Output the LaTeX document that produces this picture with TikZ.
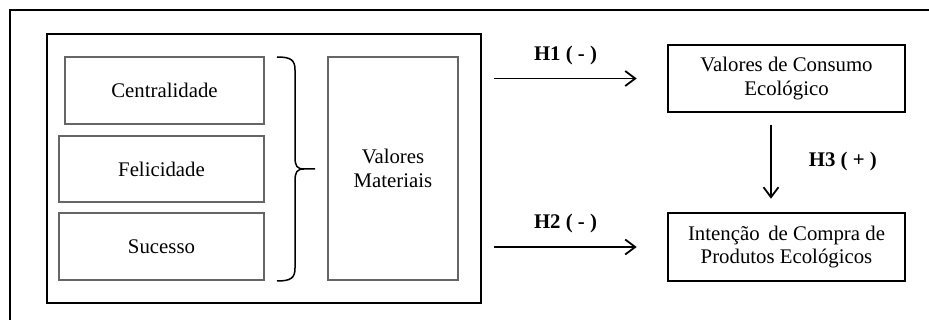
\documentclass[tikz,border=0pt]{standalone}
\usepackage{fontspec}
\setmainfont{Liberation Serif}
\usetikzlibrary{arrows.meta}
\begin{document}
\begin{tikzpicture}[x=1pt,y=-1pt,
  every node/.style={font=\fontsize{20.8}{23.5}\selectfont, align=center, inner sep=0pt},
  thinbox/.style={draw=black!60, line width=1.1pt},
  thickbox/.style={draw=black, line width=2.6pt},
  arr/.style={line width=1.8pt, -{Straight Barb[length=10pt,width=15pt,line width=1.8pt]}},
  lbl/.style={font=\fontsize{20.8}{23.5}\selectfont\bfseries}]
\useasboundingbox (0,0) rectangle (929,320);
% outer frame
\coordinate (fa) at (10,320);
\coordinate (fb) at (10,10);
\coordinate (fc) at (929,10);
\draw[line width=2.2pt] (fa) -- (fb) -- (fc);
% big box
\node[thickbox, minimum width=434pt, minimum height=269pt] (big) at (264,168.5) {};
\node[thinbox, minimum width=199pt, minimum height=67pt] (cen) at (164.5,90.5) {Centralidade};
\node[thinbox, minimum width=205pt, minimum height=66pt] (fel) at (161.5,169) {Felicidade};
\node[thinbox, minimum width=205pt, minimum height=67pt] (suc) at (161.5,246.5) {Sucesso};
\node[thinbox, minimum width=130pt, minimum height=223pt] (vm) at (393,168.5) {Valores\\Materiais};
% brace
\coordinate (bt) at (277,57);
\coordinate (bm) at (315,169);
\coordinate (bb) at (277,281);
\draw[line width=1.5pt] (bt) .. controls (291,57) and (295,60) .. (295,70)
  -- (295,157) .. controls (295,166) and (297,169) .. (304,169) -- (bm);
\draw[line width=1.5pt] (bb) .. controls (291,281) and (295,278) .. (295,268)
  -- (295,181) .. controls (295,172) and (297,169) .. (304,169);
% right boxes
\node[thickbox, minimum width=237pt, minimum height=67pt] (vce) at (786.5,78.5) {Valores de Consumo\\Ecológico};
\node[thickbox, minimum width=237pt, minimum height=68pt] (icpe) at (786.5,247) {Intenção\, de Compra de\\Produtos Ecológicos};
% arrows
\draw[arr] ([xshift=12pt]big.east |- vce.west) -- node[lbl, above=13pt] {H1 ( - )} ([xshift=-30pt]vce.west);
\draw[arr] ([xshift=12pt]big.east |- icpe.west) -- node[lbl, above=13pt] {H2 ( - )} ([xshift=-30pt]icpe.west);
\draw[arr] ([xshift=-15.5pt,yshift=-12pt]vce.south) -- node[lbl, right=37pt] {H3 ( + )} ([xshift=-15.5pt,yshift=13pt]icpe.north);
\end{tikzpicture}
\end{document}
